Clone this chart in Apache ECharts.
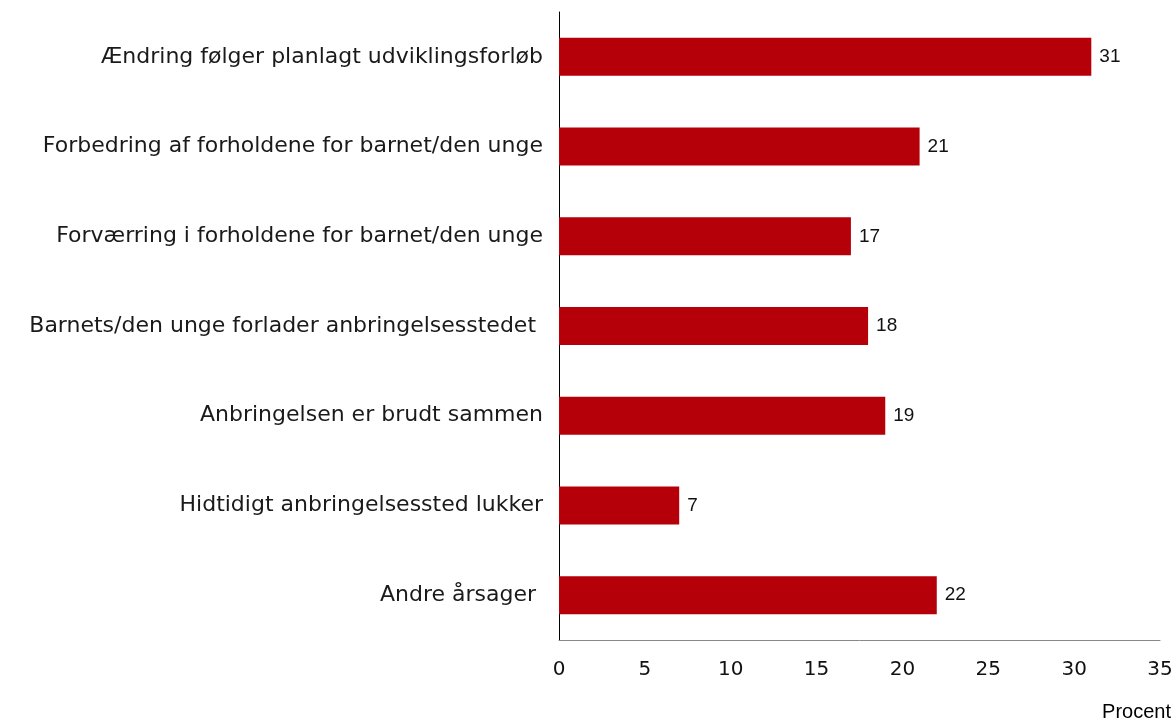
<!DOCTYPE html>
<html style="height: 100%">
<head>
<meta charset="utf-8">
</head>
<body style="height: 100%; margin: 0">
<div id="container" style="width: 1176px; height: 722px"></div>
<script type="text/javascript" src="https://cdn.jsdelivr.net/npm/echarts@6/dist/echarts.min.js"></script>
<script type="text/javascript">
var categories = [
    'Ændring følger planlagt udviklingsforløb',
    'Forbedring af forholdene for barnet/den unge',
    'Forværring i forholdene for barnet/den unge',
    'Barnets/den unge forlader anbringelsesstedet ',
    'Anbringelsen er brudt sammen',
    'Hidtidigt anbringelsessted lukker',
    'Andre årsager '
];
var values = [31, 21, 17, 18, 19, 7, 22];
var xTicks = [0, 5, 10, 15, 20, 25, 30, 35];

var myChart = echarts.init(document.getElementById('container'));

var option = {
    animation: false,
    grid: {
        left: 559,
        right: 16,
        top: 12,
        bottom: 82
    },
    graphic: [{
        type: 'text',
        right: 5,
        top: 702,
        style: {
            text: 'Procent',
            font: '20px Liberation Sans',
            fill: '#000'
        }
    }],
    xAxis: {
        type: 'value',
        min: xTicks[0],
        max: xTicks[xTicks.length - 1],
        interval: 5,
        axisLine: { show: true, lineStyle: { color: '#888', width: 1 } },
        axisTick: { show: false },
        splitLine: { show: false },
        axisLabel: {
            margin: 20,
            color: '#111',
            fontSize: 20,
            fontFamily: 'DejaVu Sans'
        }
    },
    yAxis: {
        type: 'category',
        inverse: true,
        data: categories,
        axisLine: { show: true, lineStyle: { color: '#000', width: 1 } },
        axisTick: { show: false },
        axisLabel: {
            margin: 16,
            color: '#1a1a1a',
            fontSize: 22,
            fontFamily: 'DejaVu Sans'
        }
    },
    series: [{
        type: 'bar',
        data: values,
        barWidth: 38,
        itemStyle: { color: '#b5000a' },
        label: {
            show: true,
            position: 'right',
            distance: 8,
            color: '#111',
            fontSize: 19,
            fontFamily: 'Liberation Sans'
        }
    }]
};

myChart.setOption(option, true);
</script>
</body>
</html>
